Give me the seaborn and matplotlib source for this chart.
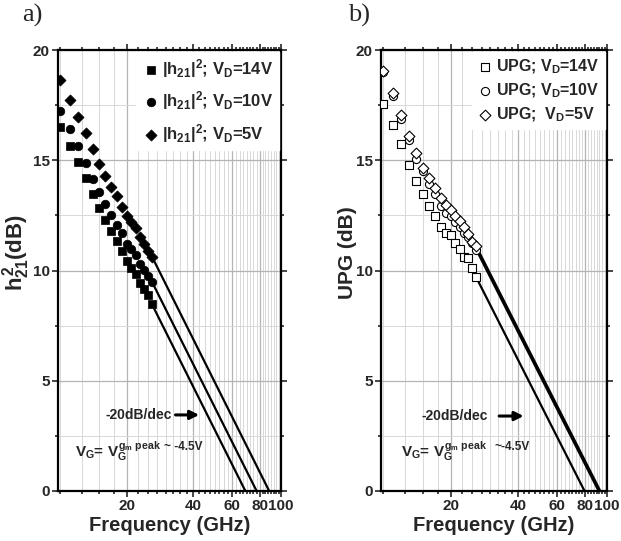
import numpy as np
import pandas as pd
import seaborn as sns
import matplotlib

matplotlib.use("Agg")
import matplotlib.pyplot as plt
from matplotlib.ticker import FixedLocator, MultipleLocator, NullFormatter

sns.set_style("ticks")
plt.rcParams["font.family"] = ["Liberation Sans", "DejaVu Sans"]
plt.rcParams["font.weight"] = "bold"
plt.rcParams["mathtext.fontset"] = "custom"
plt.rcParams["mathtext.rm"] = "Liberation Sans:bold"
plt.rcParams["mathtext.it"] = "Liberation Sans:bold"
plt.rcParams["mathtext.bf"] = "Liberation Sans:bold"

# frequency points (GHz)
freqs = [10, 11, 12, 13, 14, 15, 16, 17, 18, 19, 20, 21, 22, 23, 24, 25, 26]

# panel a: |h21|^2 (dB)
h21_14v = [16.52, 15.65, 14.91, 14.18, 13.47, 12.82, 12.29, 11.79, 11.34,
           10.90, 10.44, 10.13, 9.84, 9.45, 9.15, 8.89, 8.47]
h21_10v = [17.23, 16.40, 15.63, 14.87, 14.15, 13.54, 13.02, 12.53, 12.08,
           11.69, 11.20, 10.96, 10.70, 10.29, 10.02, 9.75, 9.49]
h21_5v = [18.64, 17.73, 16.97, 16.22, 15.50, 14.83, 14.30, 13.80, 13.38,
          12.89, 12.47, 12.21, 11.91, 11.50, 11.20, 10.90, 10.63]

# panel b: UPG (dB)
upg_14v = [17.54, 16.60, 15.72, 14.78, 14.06, 13.47, 12.94, 12.49, 11.96,
           11.71, 11.61, 11.26, 10.96, 10.63, 10.55, 10.10, 9.69]
upg_10v = [19.02, 17.91, 16.87, 15.92, 15.04, 14.51, 13.92, 13.47, 12.94,
           12.62, 12.47, 12.21, 11.99, 11.71, 11.53, 11.23, 10.95]
upg_5v = [19.06, 18.06, 17.05, 16.10, 15.32, 14.66, 14.18, 13.73, 13.27,
          12.97, 12.74, 12.47, 12.26, 11.99, 11.66, 11.30, 11.10]

x_major = [20, 40, 60, 80, 100]
x_minor = [f for f in np.arange(10, 100.1, 2.5) if f not in x_major]


def rolloff(f_last, db_last):
    # -20 dB/dec extrapolation from the last measured point down to 0 dB
    f_end = f_last * 10 ** (db_last / 20)
    f = np.array([f_last, f_end])
    return f, db_last - 20 * np.log10(f / f_last)


def style_axes(ax, ylabel, ysize, ylab_x):
    ax.set_xscale("log")
    ax.set_xlim(9.75, 100)
    ax.set_ylim(0, 20)
    ax.xaxis.set_major_locator(FixedLocator(x_major))
    ax.xaxis.set_minor_locator(FixedLocator(x_minor))
    ax.xaxis.set_minor_formatter(NullFormatter())
    ax.set_xticklabels([str(v) for v in x_major])
    ax.yaxis.set_major_locator(MultipleLocator(5))
    ax.yaxis.set_minor_locator(MultipleLocator(2.5))
    ax.grid(which="major", color="#b4b4b4", lw=0.9)
    ax.grid(which="minor", color="#d8d8d8", lw=0.7)
    ax.set_axisbelow(True)
    for s in ax.spines.values():
        s.set_linewidth(1.6)
        s.set_color("black")
    ax.tick_params(which="both", top=True, right=True, width=1.2)
    ax.tick_params(which="major", length=4, labelsize=11, pad=2)
    ax.tick_params(which="minor", length=2.5)
    ax.tick_params(axis="both", which="both", direction="out")
    for lab in ax.get_xticklabels() + ax.get_yticklabels():
        lab.set_fontweight("bold")
    ax.set_xlabel("Frequency (GHz)", fontsize=14.5, fontweight="bold", labelpad=2)
    ax.set_ylabel(ylabel, fontsize=ysize, fontweight="bold")
    ax.yaxis.set_label_coords(ylab_x, 0.54)


fig = plt.figure(figsize=(6.21, 5.41), dpi=100)
ax1 = fig.add_axes([58 / 621, 50 / 541, 223 / 621, 441 / 541])
ax2 = fig.add_axes([381 / 621, 50 / 541, 226 / 621, 441 / 541])

# panel a
series_a = [
    (h21_14v, "s", r"$|h_{21}|^{2}$; $V_D$=14V"),
    (h21_10v, "o", r"$|h_{21}|^{2}$; $V_D$=10V"),
    (h21_5v, "D", r"$|h_{21}|^{2}$; $V_D$=5V"),
]
for vals, mk, lab in series_a:
    df = pd.DataFrame({"f": freqs, "db": vals})
    sns.scatterplot(data=df, x="f", y="db", marker=mk, s=38 if mk != "D" else 32,
                    color="black", edgecolor="black", linewidth=0.5,
                    label=lab, ax=ax1, zorder=4)
    lf, ld = rolloff(freqs[-1], vals[-1])
    ax1.plot(lf, ld, color="black", lw=1.6, zorder=3)

# panel b
series_b = [
    (upg_14v, "s", r"UPG; $V_D$=14V"),
    (upg_10v, "o", r"UPG; $V_D$=10V"),
    (upg_5v, "D", r"UPG;  $V_D$=5V"),
]
for vals, mk, lab in series_b:
    df = pd.DataFrame({"f": freqs, "db": vals})
    sns.scatterplot(data=df, x="f", y="db", marker=mk, s=34 if mk != "D" else 30,
                    color="white", edgecolor="black", linewidth=0.8,
                    label=lab, ax=ax2, zorder=4)
    lf, ld = rolloff(freqs[-1], vals[-1])
    ax2.plot(lf, ld, color="black", lw=1.6, zorder=3)

style_axes(ax1, r"$h_{21}^{2}$(dB)", 16, -0.115)
style_axes(ax2, "UPG (dB)", 15, -0.105)

leg_sizes = {ax1: (12, 0.55), ax2: (11.5, 0.35)}
for ax in (ax1, ax2):
    size, spacing = leg_sizes[ax]
    leg = ax.legend(loc="upper right", frameon=True, fancybox=False,
                    framealpha=1, edgecolor="white", borderaxespad=0.1,
                    handletextpad=0.2, borderpad=0.35, labelspacing=spacing,
                    handlelength=1.0, prop={"size": size, "weight": "bold"})
    leg.set_zorder(5)

# annotations
ax1.text(16.0, 3.45, "-20dB/dec", fontsize=10, fontweight="bold", va="center")
ax1.annotate("", xy=(43.8, 3.45), xytext=(32.3, 3.45),
             arrowprops=dict(arrowstyle="-|>", color="black", lw=2.2, mutation_scale=13))
ax1.text(11.6, 1.8, r"$V_G$= $V_G^{g_m\ peak}$", fontsize=11, va="center")
ax1.text(29.5, 2.0, "~ -4.5V", fontsize=8.5, fontweight="bold", va="center")

ax2.text(14.8, 3.4, "-20dB/dec", fontsize=10, fontweight="bold", va="center")
ax2.annotate("", xy=(43.6, 3.4), xytext=(32.0, 3.4),
             arrowprops=dict(arrowstyle="-|>", color="black", lw=2.2, mutation_scale=13))
ax2.text(12.0, 1.8, r"$V_G$= $V_G^{g_m\ peak}$", fontsize=11, va="center")
ax2.text(31.5, 2.0, "~-4.5V", fontsize=8.5, fontweight="bold", va="center")

fig.text(22 / 621, 1 - 4 / 541, "a)", family="Liberation Serif", fontsize=19,
         fontweight="normal", va="top")
fig.text(348 / 621, 1 - 4 / 541, "b)", family="Liberation Serif", fontsize=19,
         fontweight="normal", va="top")

fig.savefig("out.png", dpi=100)
